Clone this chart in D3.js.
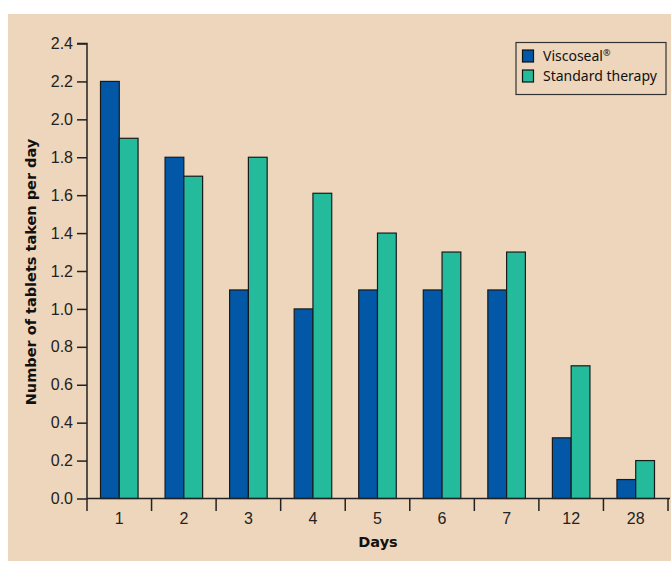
<!DOCTYPE html>
<html><head><meta charset="utf-8">
<script src="https://cdn.jsdelivr.net/npm/d3@7"></script>
<style>body{margin:0;background:#fff;}svg{display:block;font-family:"Noto Sans",sans-serif;}</style>
</head><body><svg id="c" width="671" height="561"></svg>
<script>
const days = ["1","2","3","4","5","6","7","12","28"];
const viscoseal = [2.2,1.8,1.1,1.0,1.1,1.1,1.1,0.32,0.1];
const standard = [1.9,1.7,1.8,1.61,1.4,1.3,1.3,0.7,0.2];
const seriesNames = ["Viscoseal","Standard therapy"];
const seriesMarks = ["®",""];
const yTicks = [0,0.2,0.4,0.6,0.8,1.0,1.2,1.4,1.6,1.8,2.0,2.2,2.4];
const colors = ["#0257a7","#23bb9b"];

const svg = d3.select("#c");
svg.append("rect").attr("x",8).attr("y",14).attr("width",663).attr("height",547).attr("fill","#edd6bb");

const x0 = d3.scaleBand().domain(days).range([87,668]).paddingInner(0).paddingOuter(0);
const y = d3.scaleLinear().domain([0,2.4]).range([498.5,43.5]);
const inner = d3.scaleBand().domain([0,1]).range([13.5, x0.bandwidth()-13.5]);

const g = svg.append("g");
days.forEach((d,i)=>{
  [viscoseal[i], standard[i]].forEach((v,j)=>{
    g.append("rect").attr("x",x0(d)+inner(j)).attr("y",y(v))
      .attr("width",inner.bandwidth()).attr("height",y(0)-y(v))
      .attr("fill",colors[j]).attr("stroke","#1a1a1a").attr("stroke-width",1.2);
  });
});

// y axis
const ya = svg.append("g").attr("transform","translate(87,0)")
  .call(d3.axisLeft(y).tickValues(yTicks).tickFormat(d3.format(".1f")).tickSize(10).tickPadding(4));
ya.select(".domain").attr("stroke","#222").attr("stroke-width",1.5).attr("d","M-10,43.5H0V498.5");
ya.selectAll(".tick line").attr("stroke","#222").attr("stroke-width",1.5);
ya.selectAll("text").attr("font-size",16).attr("fill","#222");

// x axis
const xa = svg.append("g").attr("transform","translate(0,498.5)")
  .call(d3.axisBottom(x0).tickSize(0).tickPadding(14));
xa.select(".domain").attr("stroke","#222").attr("stroke-width",1.5).attr("d","M87,0H670");
xa.selectAll("text").attr("font-size",16).attr("fill","#222");
const bounds = days.map(d=>x0(d)).concat([x0.range()[1]]);
svg.append("g").selectAll("line").data(bounds).join("line")
  .attr("x1",d=>d).attr("x2",d=>d).attr("y1",498.5).attr("y2",511)
  .attr("stroke","#222").attr("stroke-width",1.5);

// titles
svg.append("text").attr("x",378).attr("y",547).attr("text-anchor","middle")
  .attr("font-family","DejaVu Sans").attr("font-weight","bold").attr("font-size",14.5).attr("fill","#111").text("Days");
svg.append("text").attr("transform","translate(36,272) rotate(-90)").attr("text-anchor","middle")
  .attr("font-family","DejaVu Sans").attr("font-weight","bold").attr("font-size",14.5).attr("fill","#111").text("Number of tablets taken per day");

// legend
const lg = svg.append("g");
lg.append("rect").attr("x",516).attr("y",42.5).attr("width",150).attr("height",52)
  .attr("fill","none").attr("stroke","#333").attr("stroke-width",1.2);
seriesNames.forEach((n,i)=>{
  lg.append("rect").attr("x",522.5).attr("y",50+i*20).attr("width",11).attr("height",12)
    .attr("fill",colors[i]).attr("stroke","#111").attr("stroke-width",1.2);
  const t = lg.append("text").attr("x",543).attr("y",61+i*20).attr("font-size",14).attr("fill","#111").text(n);
  if (seriesMarks[i]) t.append("tspan").attr("font-size",9).attr("dy",-5).text(seriesMarks[i]);
});
</script></body></html>
